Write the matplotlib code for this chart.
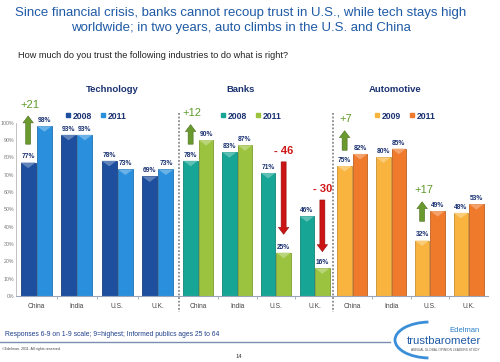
import matplotlib
matplotlib.use('Agg')
import matplotlib.pyplot as plt
import numpy as np
from matplotlib.patches import Polygon, Arc
from matplotlib.lines import Line2D
import matplotlib.colors as mcolors

# ---------------- data ----------------
categories = ['China', 'India', 'U.S.', 'U.K.']
panel_titles = ['Technology', 'Banks', 'Automotive']

tech_labels = ['2008', '2011']
tech_2008 = [77, 93, 78, 69]
tech_2011 = [98, 93, 73, 73]

bank_labels = ['2008', '2011']
banks_2008 = [78, 83, 71, 46]
banks_2011 = [90, 87, 25, 16]

auto_labels = ['2009', '2011']
auto_2009 = [75, 80, 32, 48]
auto_2011 = [82, 85, 49, 53]

y_ticks = list(range(0, 101, 10))

# change arrows: (panel, category, bar index, arrow start %, arrow end %)
change_arrows = [
    (0, 0, 0, 86, 105.5),
    (1, 0, 0, 86, 100.5),
    (1, 2, 1, 79, 34),
    (1, 3, 1, 57, 24),
    (2, 0, 0, 82.5, 97),
    (2, 2, 0, 41.5, 56),
]

# ---------------- styling ----------------
W, H = 500, 362
fig = plt.figure(figsize=(W / 100, H / 100), dpi=100)
fig.patch.set_facecolor('white')

def fx(px):
    return px / W

def fy(py):
    return 1 - py / H

SANS = ['Liberation Sans', 'DejaVu Sans']
navy = '#1b3272'

panel_series = [(tech_2008, tech_2011, tech_labels),
                (banks_2008, banks_2011, bank_labels),
                (auto_2009, auto_2011, auto_labels)]
panel_colors = [('#1d4f9e', '#2a8fdc'), ('#17a595', '#9cc33f'), ('#f8b43e', '#ef7a2c')]
panel_px = [(16, 178), (179, 334), (333, 488)]
title_cx = [112.7, 241, 395]
legend_cx = [96, 251, 405]

y0_px, y100_px = 296, 122.7

def shade(c, f):
    r, g, b = mcolors.to_rgb(c)
    if f < 1:
        return (r * f, g * f, b * f)
    return (r + (1 - r) * (f - 1), g + (1 - g) * (f - 1), b + (1 - b) * (f - 1))

axes = []
for i, ((s1, s2, labs), (c1, c2), (l, r)) in enumerate(zip(panel_series, panel_colors, panel_px)):
    ax = fig.add_axes([fx(l), fy(y0_px), (r - l) / W, (y0_px - y100_px) / H])
    axes.append(ax)
    ax.set_xlim(-0.5, 3.5)
    ax.set_ylim(0, 100)
    x = np.arange(len(categories))
    bw = 0.37
    for vals, c, off in ((s1, c1, -0.2), (s2, c2, 0.2)):
        bars = ax.bar(x + off, vals, bw, color=c, edgecolor=shade(c, 0.8), linewidth=0.6, zorder=2)
        for p, v in zip(bars, vals):
            x0, w, h = p.get_x(), p.get_width(), p.get_height()
            tri = Polygon([(x0, h), (x0 + w, h), (x0 + w / 2, h - 3.2)], closed=True,
                          facecolor=shade(c, 1.3), edgecolor='none', zorder=3)
            ax.add_patch(tri)
            ax.text(x0 + w / 2, h + 1.2, f'{v}%', ha='center', va='bottom', fontsize=4.8,
                    fontweight='bold', color=navy, family=SANS, zorder=4)
    for s in ('top', 'right'):
        ax.spines[s].set_visible(False)
    ax.spines['bottom'].set_color('#9aa6b8')
    ax.spines['bottom'].set_linewidth(0.8)
    if i == 0:
        ax.spines['left'].set_color('#b8b8b8')
        ax.spines['left'].set_linewidth(0.6)
        ax.set_yticks(y_ticks)
        ax.set_yticklabels([f'{t}%' for t in y_ticks], family=SANS)
        ax.tick_params(axis='y', length=0, pad=1.2, labelsize=3.8, labelcolor='#777777')
    else:
        ax.spines['left'].set_visible(False)
        ax.set_yticks([])
    ax.set_xticks(x)
    ax.set_xticklabels(categories, family=SANS)
    ax.tick_params(axis='x', length=0, pad=5, labelsize=4.8, labelcolor='#444444')
    ax.set_xticks([0.5, 1.5, 2.5], minor=True)
    ax.tick_params(axis='x', which='minor', length=2.5, color='#9aa6b8', width=0.6)
    ax.patch.set_alpha(0)

    handles = [Line2D([], [], marker='s', ls='', color=c1, ms=3.2),
               Line2D([], [], marker='s', ls='', color=c2, ms=3.2)]
    leg = ax.legend(handles, labs, loc='center', bbox_to_anchor=(fx(legend_cx[i]), fy(116)),
                    bbox_transform=fig.transFigure, ncol=2, frameon=False,
                    prop={'weight': 'bold', 'size': 6.2, 'family': SANS},
                    handlelength=0.6, handletextpad=0.25, columnspacing=0.9, borderpad=0)
    for t in leg.get_texts():
        t.set_color(navy)
    fig.text(fx(title_cx[i]), fy(89), panel_titles[i], ha='center', va='center',
             fontsize=6.8, fontweight='bold', color=navy, family=SANS)

# change arrows
for p, cat, bi, ys, ye in change_arrows:
    s1, s2, _ = panel_series[p]
    diff = s2[cat] - s1[cat]
    ax = axes[p]
    xa = cat + (-0.2 if bi == 0 else 0.2)
    up = diff > 0
    col = '#6a9a2d' if up else '#cc1414'
    ax.annotate('', xy=(xa, ye), xytext=(xa, ys), annotation_clip=False,
                arrowprops=dict(arrowstyle='simple,head_width=0.75,head_length=0.5,tail_width=0.36',
                                mutation_scale=10, fc=col, ec=shade(col, 0.7), lw=0.4), zorder=5)
    label = f'+{diff}' if up else f'- {abs(diff)}'
    top = ye if up else ys
    ax.annotate(label, xy=(xa, top), xytext=(1 if up else 0, 2.5), textcoords='offset points',
                ha='center', va='bottom', fontsize=8, color=('#5f9a2a' if up else '#d01818'),
                fontweight=('normal' if up else 'bold'), family=SANS, annotation_clip=False, zorder=6)

# dashed separators
for xs in (179, 333):
    fig.add_artist(Line2D([fx(xs), fx(xs)], [fy(113), fy(312)], transform=fig.transFigure,
                          color='#8a8a8a', lw=1.3, ls=(0, (1, 1))))

# headings
fig.text(fx(240.5), fy(13), 'Since financial crisis, banks cannot recoup trust in U.S., while tech stays high',
         ha='center', va='center', fontsize=9.5, color='#1f5aa6', family=SANS)
fig.text(fx(241), fy(28), 'worldwide; in two years, auto climbs in the U.S. and China',
         ha='center', va='center', fontsize=9.5, color='#1f5aa6', family=SANS)
fig.text(fx(18), fy(55), 'How much do you trust the following industries to do what is right?',
         ha='left', va='center', fontsize=6.6, color='#222222', family=SANS)

# footer
fig.text(fx(5), fy(334), 'Responses 6-9 on 1-9 scale; 9=highest; Informed publics ages 25 to 64',
         ha='left', va='center', fontsize=4.85, color='#1f3f8a', family=SANS)
fig.add_artist(Line2D([0, fx(390)], [fy(342), fy(342)], transform=fig.transFigure,
                      color='#7a8fb0', lw=1.0))
fig.text(fx(2), fy(349), '\u00a9Edelman, 2011. All rights reserved.', ha='left', va='center',
         fontsize=2.6, color='#444444', family=SANS)
fig.text(fx(239), fy(357), '14', ha='center', va='center', fontsize=4.2, color='#333333', family=SANS)

# logo
fig.text(fx(480), fy(330), 'Edelman', ha='right', va='center', fontsize=5.5, color='#2a7fc8', family=SANS)
fig.text(fx(481), fy(341), 'trustbarometer', ha='right', va='center', fontsize=8.2, color='#1f5aa6',
         family=SANS)
fig.text(fx(480), fy(350), 'ANNUAL GLOBAL OPINION LEADERS STUDY', ha='right', va='center',
         fontsize=2.3, color='#555555', family=SANS)
arc = Arc((4.3, 3.62 - 3.4), 0.7, 0.36, theta1=95, theta2=265, transform=fig.dpi_scale_trans,
          color='#3a8fd8', lw=2.0)
fig.add_artist(arc)

fig.savefig('out.png', dpi=100, facecolor='white')
